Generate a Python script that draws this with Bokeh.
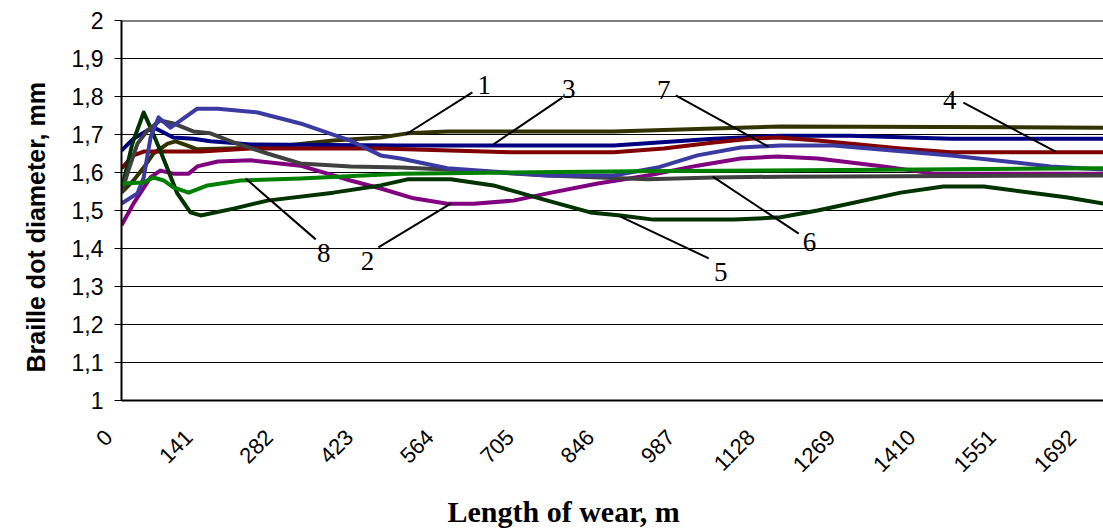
from bokeh.plotting import figure
from bokeh.models import Range1d, FixedTicker, Label, Span, Title
from bokeh.embed import file_html
from bokeh.resources import INLINE
import math

# ---- data (length of wear, m ; braille dot diameter, mm) ----
x1 = [0, 21, 39, 56, 81, 95, 116, 133, 256, 372, 455, 502, 572, 864, 1157, 1724]
y1 = [1.547, 1.579, 1.613, 1.650, 1.676, 1.682, 1.671, 1.661, 1.666, 1.684, 1.692, 1.703, 1.708, 1.708, 1.721, 1.718]

x2 = [0, 21, 51, 68, 91, 118, 133, 169, 227, 314, 402, 455, 513, 572, 618, 688, 748, 836, 924, 1011, 1087, 1152, 1222, 1338, 1426, 1724]
y2 = [1.461, 1.518, 1.587, 1.605, 1.597, 1.597, 1.616, 1.629, 1.632, 1.618, 1.579, 1.558, 1.532, 1.518, 1.518, 1.526, 1.545, 1.571, 1.592, 1.618, 1.637, 1.642, 1.637, 1.616, 1.597, 1.597]

x3 = [0, 21, 46, 60, 74, 91, 126, 156, 227, 490, 864, 1040, 1157, 1280, 1456, 1724]
y3 = [1.658, 1.689, 1.711, 1.716, 1.705, 1.692, 1.689, 1.682, 1.674, 1.671, 1.671, 1.689, 1.697, 1.697, 1.689, 1.689]

x4 = [0, 21, 39, 139, 227, 455, 688, 864, 952, 1040, 1104, 1152, 1222, 1368, 1456, 1724]
y4 = [1.611, 1.645, 1.655, 1.655, 1.663, 1.663, 1.653, 1.653, 1.663, 1.679, 1.689, 1.692, 1.684, 1.663, 1.653, 1.653]

x5 = [0, 19, 39, 51, 68, 98, 121, 139, 197, 256, 372, 455, 502, 578, 653, 748, 823, 876, 934, 1075, 1157, 1222, 1368, 1443, 1514, 1661, 1724]
y5 = [1.553, 1.676, 1.758, 1.718, 1.658, 1.545, 1.495, 1.487, 1.505, 1.526, 1.547, 1.566, 1.582, 1.582, 1.566, 1.526, 1.495, 1.487, 1.476, 1.476, 1.482, 1.500, 1.547, 1.563, 1.563, 1.534, 1.518]

x6 = [0, 12, 28, 46, 68, 91, 126, 156, 197, 256, 314, 402, 490, 572, 748, 924, 1040, 1157, 1724]
y6 = [1.547, 1.605, 1.676, 1.711, 1.737, 1.729, 1.708, 1.703, 1.679, 1.650, 1.624, 1.616, 1.613, 1.608, 1.592, 1.582, 1.587, 1.589, 1.592]

x7 = [0, 28, 39, 51, 65, 86, 104, 133, 169, 239, 314, 402, 455, 490, 572, 748, 864, 941, 1011, 1087, 1157, 1250, 1456, 1631, 1724]
y7 = [1.518, 1.545, 1.587, 1.692, 1.745, 1.718, 1.737, 1.768, 1.768, 1.758, 1.729, 1.684, 1.645, 1.637, 1.611, 1.592, 1.592, 1.613, 1.645, 1.666, 1.671, 1.671, 1.645, 1.616, 1.608]

x8 = [0, 39, 56, 74, 91, 118, 151, 209, 314, 490, 900, 1400, 1724]
y8 = [1.571, 1.574, 1.587, 1.579, 1.561, 1.547, 1.566, 1.579, 1.584, 1.597, 1.603, 1.608, 1.611]

series_names = ["1", "2", "3", "4", "5", "6", "7", "8"]
series_colors = ["#333300", "#800080", "#000080", "#800000", "#003300", "#404040", "#3a3aa0", "#008000"]

x_ticks = [0, 141, 282, 423, 564, 705, 846, 987, 1128, 1269, 1410, 1551, 1692]
x_tick_labels = ["0", "141", "282", "423", "564", "705", "846", "987", "1128", "1269", "1410", "1551", "1692"]
y_ticks = [1.0, 1.1, 1.2, 1.3, 1.4, 1.5, 1.6, 1.7, 1.8, 1.9, 2.0]
y_tick_labels = ["1", "1,1", "1,2", "1,3", "1,4", "1,5", "1,6", "1,7", "1,8", "1,9", "2"]

x_title = "Length of wear, m"
y_title = "Braille dot diameter, mm"

# callouts: label, text position, leader line start/end (data units)
callout_labels = ["1", "3", "7", "4", "5", "6", "8", "2"]
callout_text_x = [637, 785, 952, 1454, 1052, 1208, 355, 432]
callout_text_y = [1.829, 1.821, 1.816, 1.792, 1.339, 1.418, 1.387, 1.368]
callout_x0 = [616, 774, 973, 1478, 876, 1038, 218, 578]
callout_y0 = [1.811, 1.797, 1.803, 1.784, 1.484, 1.589, 1.584, 1.518]
callout_x1 = [499, 653, 1136, 1640, 1031, 1189, 341, 451]
callout_y1 = [1.700, 1.674, 1.668, 1.655, 1.374, 1.439, 1.424, 1.403]

# ---- figure ----
p = figure(width=1103, height=532, output_backend="svg", toolbar_location=None,
           x_range=Range1d(0, 1724), y_range=Range1d(1, 2),
           min_border_left=121, min_border_right=0, min_border_top=20, min_border_bottom=132)
p.outline_line_color = None
p.background_fill_color = "white"
p.border_fill_color = "white"

p.xgrid.grid_line_color = None
p.ygrid.ticker = FixedTicker(ticks=y_ticks)
p.ygrid.grid_line_color = "#000000"
p.ygrid.grid_line_width = 1

# trailing no-break spaces push the rotated labels slightly down-left, like Excel
pad = "\u00a0\u00a0\u00a0"
p.xaxis.ticker = FixedTicker(ticks=x_ticks)
p.xaxis.major_label_overrides = {t: s + pad for t, s in zip(x_ticks, x_tick_labels)}
p.xaxis.major_label_orientation = math.pi / 4
p.xaxis.major_label_text_font = "Liberation Sans"
p.xaxis.major_label_text_font_size = "22px"
p.xaxis.major_label_text_color = "black"
p.xaxis.major_tick_out = 0
p.xaxis.major_tick_in = 0
p.xaxis.minor_tick_out = 0
p.xaxis.minor_tick_in = 0
p.xaxis.major_label_standoff = 20
p.xaxis.axis_line_color = "black"
p.xaxis.axis_line_width = 2

p.yaxis.ticker = FixedTicker(ticks=y_ticks)
p.yaxis.major_label_overrides = dict(zip(y_ticks, y_tick_labels))
p.yaxis.major_label_text_font = "Liberation Sans"
p.yaxis.major_label_text_font_size = "23px"
p.yaxis.major_label_text_color = "black"
p.yaxis.major_tick_out = 7
p.yaxis.major_tick_in = 0
p.yaxis.minor_tick_out = 0
p.yaxis.minor_tick_in = 0
p.yaxis.major_tick_line_color = "black"
p.yaxis.major_label_standoff = 11
p.yaxis.axis_line_color = "black"
p.yaxis.axis_line_width = 2

p.add_layout(Span(location=2, dimension="width", line_color="black", line_width=2))

xs = [x1, x2, x3, x4, x5, x6, x7, x8]
ys = [y1, y2, y3, y4, y5, y6, y7, y8]
for xv, yv, c in zip(xs, ys, series_colors):
    p.line(xv, yv, line_color=c, line_width=4, line_join="round")

p.segment(x0=callout_x0, y0=callout_y0, x1=callout_x1, y1=callout_y1,
          line_color="black", line_width=2)
for t, tx, ty in zip(callout_labels, callout_text_x, callout_text_y):
    p.add_layout(Label(x=tx, y=ty, text=t, text_font="Liberation Serif",
                       text_font_size="27px", text_color="black",
                       text_align="center", text_baseline="middle"))

p.add_layout(Title(text=x_title, align="left", offset=326, standoff=8,
                   text_font="Liberation Serif", text_font_size="30px",
                   text_font_style="bold", text_color="black"), "below")
p.add_layout(Title(text=y_title, align="left", offset=28, standoff=38,
                   text_font="Liberation Sans", text_font_size="25px",
                   text_font_style="bold", text_color="black"), "left")

open("out.html", "w").write(file_html(p, INLINE))
